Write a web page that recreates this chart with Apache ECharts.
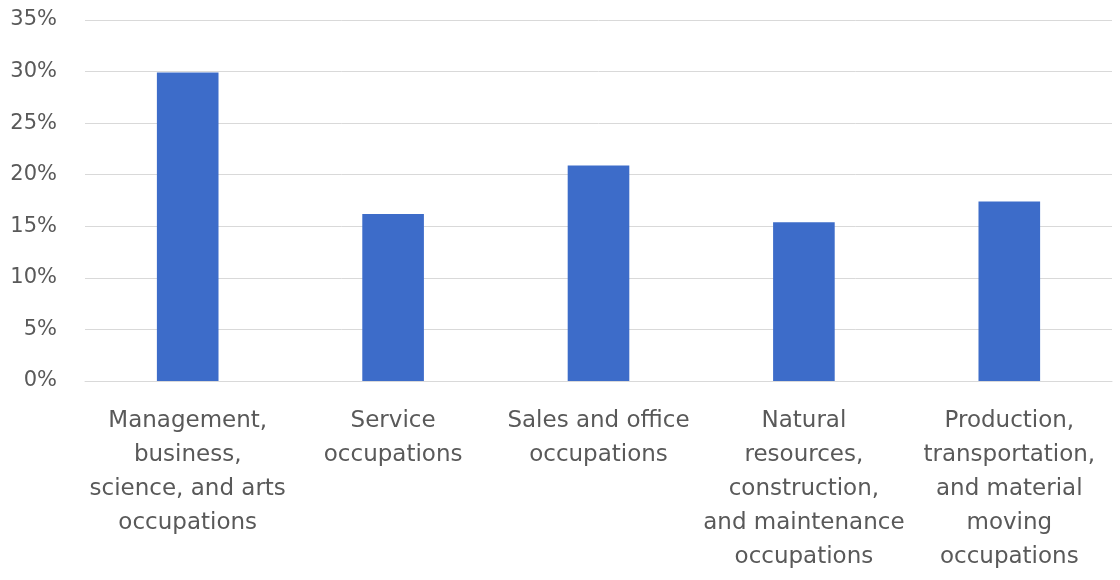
<!DOCTYPE html>
<html>
<head>
<meta charset="utf-8">
<script src="https://cdn.jsdelivr.net/npm/echarts@6/dist/echarts.min.js"></script>
<style>html,body{margin:0;padding:0;background:#fff}#c{width:1120px;height:580px}</style>
</head>
<body>
<div id="c"></div>
<script>
const categories = [
  "Management,\nbusiness,\nscience, and arts\noccupations",
  "Service\noccupations",
  "Sales and office\noccupations",
  "Natural\nresources,\nconstruction,\nand maintenance\noccupations",
  "Production,\ntransportation,\nand material\nmoving\noccupations"
];
const shares = [29.9, 16.2, 20.9, 15.4, 17.4];
const yTicks = { min: 0, max: 35, interval: 5 };

const chart = echarts.init(document.getElementById('c'), null, { renderer: 'canvas' });
chart.setOption({
  animation: false,
  backgroundColor: '#ffffff',
  grid: { left: 85, right: 8, top: 20, bottom: 199 },
  xAxis: {
    type: 'category',
    data: categories,
    axisLine: { show: true, lineStyle: { color: '#d9d9d9', width: 1 } },
    axisTick: { show: false },
    axisLabel: {
      interval: 0, margin: 23, color: '#595959',
      fontFamily: 'DejaVu Sans', fontSize: 23, lineHeight: 34, align: 'center'
    }
  },
  yAxis: {
    type: 'value',
    min: yTicks.min, max: yTicks.max, interval: yTicks.interval,
    axisLine: { show: false },
    axisTick: { show: false },
    splitLine: { lineStyle: { color: '#d9d9d9', width: 1 } },
    axisLabel: {
      formatter: v => v + '%', color: '#595959',
      fontFamily: 'DejaVu Sans', fontSize: 21, margin: 28
    }
  },
  series: [{
    type: 'bar',
    data: shares,
    barWidth: '30%',
    itemStyle: { color: '#3D6CC9' }
  }]
});
</script>
</body>
</html>
